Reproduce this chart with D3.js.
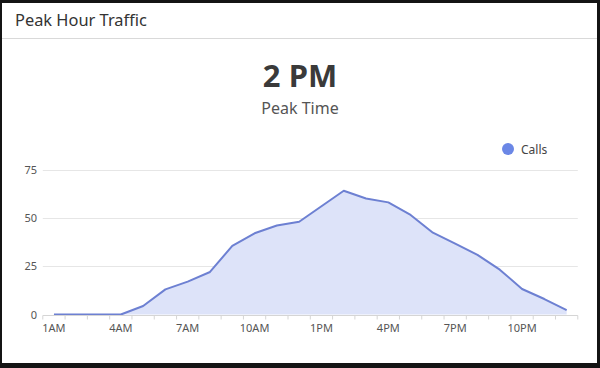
<!DOCTYPE html>
<html><head><meta charset="utf-8">
<script src="https://cdn.jsdelivr.net/npm/d3@7"></script>
<style>
html,body{margin:0;padding:0;background:#141414;}
svg{display:block;font-family:"Noto Sans","Open Sans",sans-serif;}
</style></head>
<body>
<svg id="c" width="600" height="368"></svg>
<script>
const categories = ["1AM","2AM","3AM","4AM","5AM","6AM","7AM","8AM","9AM","10AM","11AM","12PM",
  "1PM","2PM","3PM","4PM","5PM","6PM","7PM","8PM","9PM","10PM","11PM","12AM"];
const calls = [0,0,0,0,4.4,13,17,22,35.5,42,46,48,56,64,60,58,51.5,42.3,36.7,30.8,23.2,13.2,8,2.3];
const yTicks = [0,25,50,75];
const xLabels = ["1AM","4AM","7AM","10AM","1PM","4PM","7PM","10PM"];
const seriesName = "Calls";
const title = "Peak Hour Traffic";
const kpiValue = "2 PM";
const kpiLabel = "Peak Time";

const svg = d3.select("#c");
// panel
svg.append("rect").attr("x",2).attr("y",3).attr("width",595).attr("height",360).attr("fill","#fff");
svg.append("line").attr("x1",2).attr("x2",597).attr("y1",38.5).attr("y2",38.5).attr("stroke","#d9d9d9");
svg.append("text").attr("x",15).attr("y",26).attr("font-size",16.4).attr("fill","#333").text(title);
svg.append("text").attr("x",300).attr("y",87).attr("text-anchor","middle").attr("font-size",31).attr("font-weight","bold").attr("fill","#3a3a3a").text(kpiValue);
svg.append("text").attr("x",300).attr("y",114).attr("text-anchor","middle").attr("font-size",16).attr("fill","#555").text(kpiLabel);

// legend
svg.append("circle").attr("cx",508).attr("cy",149).attr("r",6).attr("fill","#6b87e6");
svg.append("text").attr("x",521).attr("y",153.5).attr("font-size",12).attr("fill","#444").text(seriesName);

const x = d3.scaleBand().domain(categories).range([42.8,577.8]).padding(0);
const y = d3.scaleLinear().domain([0,75]).range([314.5,169.5]);
const cx = d => x(d) + x.bandwidth()/2;

// grid
const g = svg.append("g");
g.selectAll("line.grid").data(yTicks.filter(t=>t>0)).join("line")
  .attr("x1",42.8).attr("x2",577.8).attr("y1",d=>Math.round(y(d))+0.5).attr("y2",d=>Math.round(y(d))+0.5)
  .attr("stroke","#e6e6e6");

// area and line
svg.append("path").datum(calls).attr("fill","#dde3f9")
  .attr("d", d3.area().x((d,i)=>cx(categories[i])).y0(y(0)).y1(d=>y(d)));
svg.append("path").datum(calls).attr("fill","none").attr("stroke","#6d80d2").attr("stroke-width",2)
  .attr("stroke-linejoin","round")
  .attr("d", d3.line().x((d,i)=>cx(categories[i])).y(d=>y(d)));

// y axis labels
svg.selectAll("text.yl").data(yTicks).join("text").attr("class","yl")
  .attr("x",37).attr("y",d=>y(d)+4).attr("text-anchor","end").attr("font-size",11).attr("fill","#555").text(d=>d);

// x axis
const xAxis = d3.axisBottom(x).tickSize(4).tickFormat(d=>xLabels.includes(d)?d:"");
const ax = svg.append("g").attr("transform",`translate(0,${Math.round(y(0))+0.5})`).call(xAxis);
ax.select(".domain").attr("stroke","#d5d5d5").attr("d","M42.8,0H577.8");
ax.selectAll(".tick line").attr("stroke","#d5d5d5").attr("transform",`translate(${x.bandwidth()/2},0)`);
ax.selectAll(".tick text").attr("font-size",11).attr("fill","#555").attr("dy","0.9em")
  .attr("font-family","'Noto Sans','Open Sans',sans-serif");
ax.append("line").attr("x1",42.8).attr("x2",42.8).attr("y1",0).attr("y2",4).attr("stroke","#d5d5d5");
</script>
</body></html>
